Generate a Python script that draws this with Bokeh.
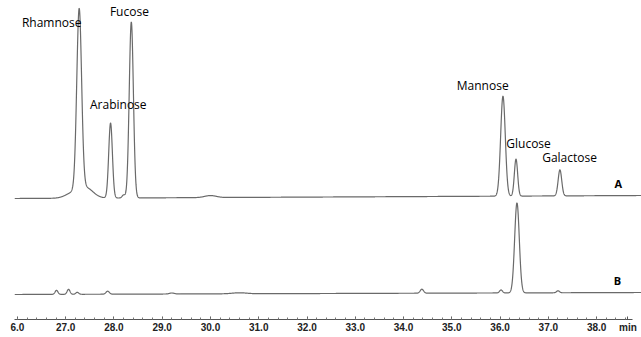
import numpy as np
from bokeh.plotting import figure
from bokeh.models import Range1d, FixedTicker, PrintfTickFormatter, Label
from bokeh.embed import file_html
from bokeh.resources import INLINE

# Peak tables (retention time in min, height, width sigma in min)
peaks_a_time = [27.15, 27.28, 27.42, 27.93, 28.20, 28.36, 30.00, 36.06, 36.33, 37.24]
peaks_a_height = [5, 180, 10, 75, 3, 176, 2, 100, 37, 26]
peaks_a_sigma = [0.15, 0.05, 0.15, 0.038, 0.03, 0.043, 0.12, 0.048, 0.034, 0.037]

peaks_b_time = [26.81, 27.06, 27.24, 27.87, 29.20, 30.60, 34.38, 36.02, 36.35, 37.20]
peaks_b_height = [4, 5, 2, 3, 1, 1, 4, 3, 90, 2]
peaks_b_sigma = [0.03, 0.03, 0.03, 0.035, 0.05, 0.15, 0.035, 0.03, 0.048, 0.03]

# Baseline level at run start / end for each trace
baseline_a = [121, 124]
baseline_b = [25, 27]

# Compound names and where each name sits (time, signal)
compound_names = ["Rhamnose", "Arabinose", "Fucose", "Mannose", "Glucose", "Galactose"]
name_pos = [(26.71, 297), (28.09, 215), (28.32, 308), (35.64, 234), (36.59, 176), (37.44, 162)]
trace_names = ["A", "B"]
trace_name_pos = [(38.45, 136), (38.43, 39)]

major_ticks = [26.0, 27.0, 28.0, 29.0, 30.0, 31.0, 32.0, 33.0, 34.0, 35.0, 36.0, 37.0, 38.0]

t = np.linspace(25.94, 38.93, 4000)


def trace(times, heights, sigmas, base):
    y = base[0] + (base[1] - base[0]) * (t - t[0]) / (t[-1] - t[0])
    for c, h, s in zip(times, heights, sigmas):
        y = y + h * np.exp(-0.5 * ((t - c) / s) ** 2)
    return y


ya = trace(peaks_a_time, peaks_a_height, peaks_a_sigma, baseline_a)
yb = trace(peaks_b_time, peaks_b_height, peaks_b_sigma, baseline_b)

p = figure(width=641, height=337, output_backend="svg", toolbar_location=None,
           x_range=Range1d(25.94, 38.93), y_range=Range1d(0, 319),
           min_border_left=14, min_border_right=0, min_border_top=0, min_border_bottom=18)
p.yaxis.visible = False
p.grid.visible = False
p.outline_line_color = None
p.background_fill_color = "white"
p.border_fill_color = "white"

line_color = "#6a6a6a"
p.line(t, ya, line_color=line_color, line_width=1.2)
p.line(t, yb, line_color=line_color, line_width=1.2)

ax = p.xaxis[0]
ax.ticker = FixedTicker(ticks=major_ticks + [38.65],
                        minor_ticks=list(np.round(np.arange(26.0, 38.7, 0.2), 1)))
ax.formatter = PrintfTickFormatter(format="%.1f")
ax.major_label_overrides = {26: "6.0", 38.65: "min"}
ax.bounds = (25.94, 38.75)
ax.axis_line_color = "#555555"
ax.axis_line_width = 1
ax.major_tick_in = 3
ax.major_tick_out = 0
ax.minor_tick_in = 2
ax.minor_tick_out = 0
ax.major_tick_line_color = "#555555"
ax.minor_tick_line_color = "#777777"
ax.major_label_standoff = 2
ax.major_label_text_font = "Liberation Sans"
ax.major_label_text_font_style = "bold"
ax.major_label_text_font_size = "10px"
ax.major_label_text_color = "#222222"

for name, (x, y) in zip(compound_names, name_pos):
    p.add_layout(Label(x=x, y=y, text=name, text_align="center", text_baseline="middle",
                       text_font="Open Sans", text_font_size="12px", text_color="#000000"))

for name, (x, y) in zip(trace_names, trace_name_pos):
    p.add_layout(Label(x=x, y=y, text=name, text_align="center", text_baseline="middle",
                       text_font="Open Sans", text_font_style="bold", text_font_size="11px",
                       text_color="#000000"))

open("out.html", "w").write(file_html(p, INLINE))
